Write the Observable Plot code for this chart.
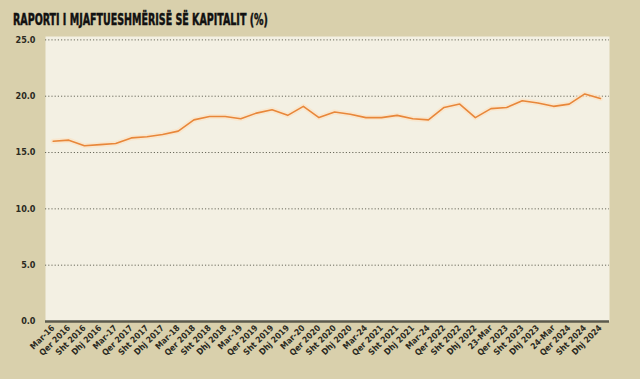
<!DOCTYPE html>
<html>
<head>
<meta charset="utf-8">
<script src="https://cdn.jsdelivr.net/npm/d3@7"></script>
<script src="https://cdn.jsdelivr.net/npm/@observablehq/plot@0.6"></script>
<style>
  html, body { margin: 0; padding: 0; background: #d9d0ac; }
  #wrap { position: relative; width: 640px; height: 379px; background: #d9d0ac; overflow: hidden; }
  #title { position: absolute; left: 13px; top: 10px; height: 20px; line-height: 20px;
           font-family: "DejaVu Sans Condensed", "DejaVu Sans", sans-serif; font-stretch: condensed;
           font-weight: bold; font-size: 16px; color: #111; white-space: nowrap;
           -webkit-text-stroke: 0.5px #111;
           transform: scaleX(0.66); transform-origin: 0 50%; }
  #chart { position: absolute; left: 0; top: 30px; }
</style>
</head>
<body>
<div id="wrap">
  <div id="title">RAPORTI I MJAFTUESHMËRISË SË KAPITALIT (%)</div>
  <div id="chart"></div>
</div>
<script>
const periods = ["Mar-16","Qer 2016","Sht 2016","Dhj 2016","Mar-17","Qer 2017","Sht 2017","Dhj 2017",
  "Mar-18","Qer 2018","Sht 2018","Dhj 2018","Mar-19","Qer 2019","Sht 2019","Dhj 2019",
  "Mar-20","Qer 2020","Sht 2020","Dhj 2020","Mar-24","Qer 2021","Sht 2021","Dhj 2021",
  "Mar-24","Qer 2022","Sht 2022","Dhj 2022","23-Mar","Qer 2023","Sht 2023","Dhj 2023",
  "24-Mar","Qer 2024","Sht 2024","Dhj 2024"];
const values = [16.0,16.1,15.6,15.7,15.8,16.3,16.4,16.6,16.9,17.9,18.2,18.2,18.0,18.5,18.8,18.3,
  19.1,18.1,18.6,18.4,18.1,18.1,18.3,18.0,17.9,19.0,19.3,18.1,18.9,19.0,19.6,19.4,19.1,19.3,20.2,19.8];
const yTicks = [0,5,10,15,20,25];

const data = values.map((v, i) => ({i, v}));
const font = '"DejaVu Sans Condensed", "DejaVu Sans", sans-serif';

const chart = Plot.plot({
  width: 640,
  height: 349,
  marginTop: 6,
  marginBottom: 58,
  marginLeft: 45,
  marginRight: 31,
  style: {background: "transparent", fontFamily: font, fontWeight: "bold", fontSize: "9px", color: "#2b2a22"},
  x: {type: "linear", domain: [-0.49, 35.58], label: null},
  y: {domain: [0, 25.3], label: null},
  marks: [
    Plot.frame({fill: "#f3f0e3", stroke: null}),
    Plot.gridY(yTicks.filter(d => d > 0), {stroke: "#6a6a5c", strokeOpacity: 1, strokeDasharray: "1.2,2", strokeWidth: 1}),
    Plot.ruleY([0], {stroke: "#5b5a4c", strokeWidth: 2.5}),
    Plot.axisY({ticks: yTicks, tickSize: 0, tickPadding: 10, tickFormat: d => d.toFixed(1), fontSize: 9}),
    Plot.axisX({ticks: d3.range(periods.length), tickSize: 0, tickPadding: 5, tickRotate: -45, tickFormat: i => periods[i], fontSize: 8.5}),
    Plot.line(data, {x: "i", y: "v", stroke: "#fbe3c4", strokeWidth: 5, strokeOpacity: 0.7}),
    Plot.line(data, {x: "i", y: "v", stroke: "#e8873a", strokeWidth: 1.6})
  ]
});
document.getElementById("chart").appendChild(chart);
</script>
</body>
</html>
